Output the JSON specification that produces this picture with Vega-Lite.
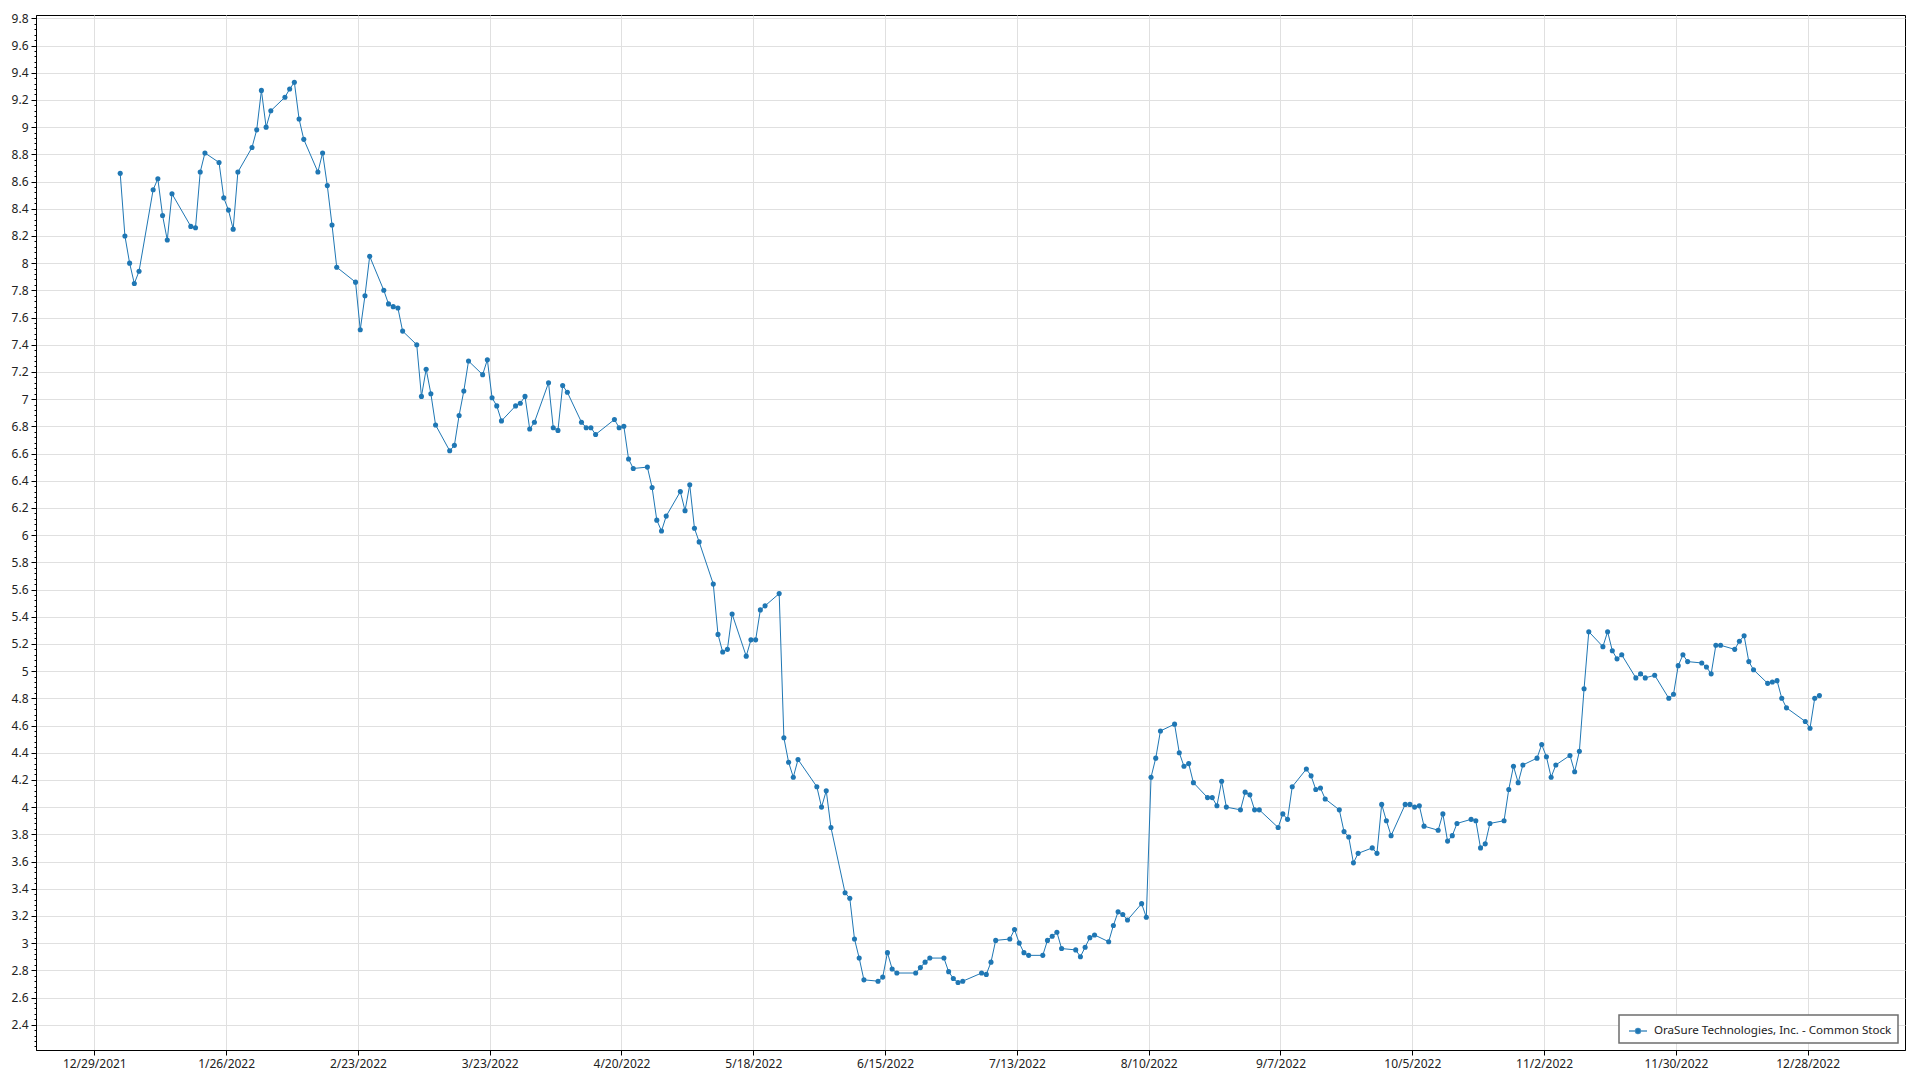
{
  "$schema": "https://vega.github.io/schema/vega-lite/v6.json",
  "width": 1869,
  "height": 1035,
  "autosize": {"type": "none"},
  "padding": {"left": 36, "top": 15, "right": 15, "bottom": 30},
  "background": "white",
  "config": {
    "font": "Noto Sans",
    "view": {"stroke": "#000000", "strokeWidth": 1},
    "axis": {"labelFont": "Noto Sans", "labelFontSize": 12, "labelColor": "#222222", "domainColor": "#000000", "tickColor": "#000000", "gridColor": "#e0e0e0", "gridWidth": 1, "title": null}
  },
  "data": {"values": [
{"date":"2022-01-03","price":8.66},{"date":"2022-01-04","price":8.20},{"date":"2022-01-05","price":8.00},{"date":"2022-01-06","price":7.85},{"date":"2022-01-07","price":7.94},
{"date":"2022-01-10","price":8.54},{"date":"2022-01-11","price":8.62},{"date":"2022-01-12","price":8.35},{"date":"2022-01-13","price":8.17},{"date":"2022-01-14","price":8.51},
{"date":"2022-01-18","price":8.27},{"date":"2022-01-19","price":8.26},{"date":"2022-01-20","price":8.67},{"date":"2022-01-21","price":8.81},
{"date":"2022-01-24","price":8.74},{"date":"2022-01-25","price":8.48},{"date":"2022-01-26","price":8.39},{"date":"2022-01-27","price":8.25},{"date":"2022-01-28","price":8.67},
{"date":"2022-01-31","price":8.85},{"date":"2022-02-01","price":8.98},{"date":"2022-02-02","price":9.27},{"date":"2022-02-03","price":9.00},{"date":"2022-02-04","price":9.12},
{"date":"2022-02-07","price":9.22},{"date":"2022-02-08","price":9.28},{"date":"2022-02-09","price":9.33},{"date":"2022-02-10","price":9.06},{"date":"2022-02-11","price":8.91},
{"date":"2022-02-14","price":8.67},{"date":"2022-02-15","price":8.81},{"date":"2022-02-16","price":8.57},{"date":"2022-02-17","price":8.28},{"date":"2022-02-18","price":7.97},
{"date":"2022-02-22","price":7.86},{"date":"2022-02-23","price":7.51},{"date":"2022-02-24","price":7.76},{"date":"2022-02-25","price":8.05},
{"date":"2022-02-28","price":7.80},{"date":"2022-03-01","price":7.70},{"date":"2022-03-02","price":7.68},{"date":"2022-03-03","price":7.67},{"date":"2022-03-04","price":7.50},
{"date":"2022-03-07","price":7.40},{"date":"2022-03-08","price":7.02},{"date":"2022-03-09","price":7.22},{"date":"2022-03-10","price":7.04},{"date":"2022-03-11","price":6.81},
{"date":"2022-03-14","price":6.62},{"date":"2022-03-15","price":6.66},{"date":"2022-03-16","price":6.88},{"date":"2022-03-17","price":7.06},{"date":"2022-03-18","price":7.28},
{"date":"2022-03-21","price":7.18},{"date":"2022-03-22","price":7.29},{"date":"2022-03-23","price":7.01},{"date":"2022-03-24","price":6.95},{"date":"2022-03-25","price":6.84},
{"date":"2022-03-28","price":6.95},{"date":"2022-03-29","price":6.97},{"date":"2022-03-30","price":7.02},{"date":"2022-03-31","price":6.78},{"date":"2022-04-01","price":6.83},
{"date":"2022-04-04","price":7.12},{"date":"2022-04-05","price":6.79},{"date":"2022-04-06","price":6.77},{"date":"2022-04-07","price":7.10},{"date":"2022-04-08","price":7.05},
{"date":"2022-04-11","price":6.83},{"date":"2022-04-12","price":6.79},{"date":"2022-04-13","price":6.79},{"date":"2022-04-14","price":6.74},
{"date":"2022-04-18","price":6.85},{"date":"2022-04-19","price":6.79},{"date":"2022-04-20","price":6.80},{"date":"2022-04-21","price":6.56},{"date":"2022-04-22","price":6.49},
{"date":"2022-04-25","price":6.50},{"date":"2022-04-26","price":6.35},{"date":"2022-04-27","price":6.11},{"date":"2022-04-28","price":6.03},{"date":"2022-04-29","price":6.14},
{"date":"2022-05-02","price":6.32},{"date":"2022-05-03","price":6.18},{"date":"2022-05-04","price":6.37},{"date":"2022-05-05","price":6.05},{"date":"2022-05-06","price":5.95},
{"date":"2022-05-09","price":5.64},{"date":"2022-05-10","price":5.27},{"date":"2022-05-11","price":5.14},{"date":"2022-05-12","price":5.16},{"date":"2022-05-13","price":5.42},
{"date":"2022-05-16","price":5.11},{"date":"2022-05-17","price":5.23},{"date":"2022-05-18","price":5.23},{"date":"2022-05-19","price":5.45},{"date":"2022-05-20","price":5.48},
{"date":"2022-05-23","price":5.57},{"date":"2022-05-24","price":4.51},{"date":"2022-05-25","price":4.33},{"date":"2022-05-26","price":4.22},{"date":"2022-05-27","price":4.35},
{"date":"2022-05-31","price":4.15},{"date":"2022-06-01","price":4.00},{"date":"2022-06-02","price":4.12},{"date":"2022-06-03","price":3.85},
{"date":"2022-06-06","price":3.37},{"date":"2022-06-07","price":3.33},{"date":"2022-06-08","price":3.03},{"date":"2022-06-09","price":2.89},{"date":"2022-06-10","price":2.73},
{"date":"2022-06-13","price":2.72},{"date":"2022-06-14","price":2.75},{"date":"2022-06-15","price":2.93},{"date":"2022-06-16","price":2.81},{"date":"2022-06-17","price":2.78},
{"date":"2022-06-21","price":2.78},{"date":"2022-06-22","price":2.82},{"date":"2022-06-23","price":2.86},{"date":"2022-06-24","price":2.89},
{"date":"2022-06-27","price":2.89},{"date":"2022-06-28","price":2.79},{"date":"2022-06-29","price":2.74},{"date":"2022-06-30","price":2.71},{"date":"2022-07-01","price":2.72},
{"date":"2022-07-05","price":2.78},{"date":"2022-07-06","price":2.77},{"date":"2022-07-07","price":2.86},{"date":"2022-07-08","price":3.02},
{"date":"2022-07-11","price":3.03},{"date":"2022-07-12","price":3.10},{"date":"2022-07-13","price":3.00},{"date":"2022-07-14","price":2.93},{"date":"2022-07-15","price":2.91},
{"date":"2022-07-18","price":2.91},{"date":"2022-07-19","price":3.02},{"date":"2022-07-20","price":3.05},{"date":"2022-07-21","price":3.08},{"date":"2022-07-22","price":2.96},
{"date":"2022-07-25","price":2.95},{"date":"2022-07-26","price":2.90},{"date":"2022-07-27","price":2.97},{"date":"2022-07-28","price":3.04},{"date":"2022-07-29","price":3.06},
{"date":"2022-08-01","price":3.01},{"date":"2022-08-02","price":3.13},{"date":"2022-08-03","price":3.23},{"date":"2022-08-04","price":3.21},{"date":"2022-08-05","price":3.17},
{"date":"2022-08-08","price":3.29},{"date":"2022-08-09","price":3.19},{"date":"2022-08-10","price":4.22},{"date":"2022-08-11","price":4.36},{"date":"2022-08-12","price":4.56},
{"date":"2022-08-15","price":4.61},{"date":"2022-08-16","price":4.40},{"date":"2022-08-17","price":4.30},{"date":"2022-08-18","price":4.32},{"date":"2022-08-19","price":4.18},
{"date":"2022-08-22","price":4.07},{"date":"2022-08-23","price":4.07},{"date":"2022-08-24","price":4.01},{"date":"2022-08-25","price":4.19},{"date":"2022-08-26","price":4.00},
{"date":"2022-08-29","price":3.98},{"date":"2022-08-30","price":4.11},{"date":"2022-08-31","price":4.09},{"date":"2022-09-01","price":3.98},{"date":"2022-09-02","price":3.98},
{"date":"2022-09-06","price":3.85},{"date":"2022-09-07","price":3.95},{"date":"2022-09-08","price":3.91},{"date":"2022-09-09","price":4.15},
{"date":"2022-09-12","price":4.28},{"date":"2022-09-13","price":4.23},{"date":"2022-09-14","price":4.13},{"date":"2022-09-15","price":4.14},{"date":"2022-09-16","price":4.06},
{"date":"2022-09-19","price":3.98},{"date":"2022-09-20","price":3.82},{"date":"2022-09-21","price":3.78},{"date":"2022-09-22","price":3.59},{"date":"2022-09-23","price":3.66},
{"date":"2022-09-26","price":3.70},{"date":"2022-09-27","price":3.66},{"date":"2022-09-28","price":4.02},{"date":"2022-09-29","price":3.90},{"date":"2022-09-30","price":3.79},
{"date":"2022-10-03","price":4.02},{"date":"2022-10-04","price":4.02},{"date":"2022-10-05","price":4.00},{"date":"2022-10-06","price":4.01},{"date":"2022-10-07","price":3.86},
{"date":"2022-10-10","price":3.83},{"date":"2022-10-11","price":3.95},{"date":"2022-10-12","price":3.75},{"date":"2022-10-13","price":3.79},{"date":"2022-10-14","price":3.88},
{"date":"2022-10-17","price":3.91},{"date":"2022-10-18","price":3.90},{"date":"2022-10-19","price":3.70},{"date":"2022-10-20","price":3.73},{"date":"2022-10-21","price":3.88},
{"date":"2022-10-24","price":3.90},{"date":"2022-10-25","price":4.13},{"date":"2022-10-26","price":4.30},{"date":"2022-10-27","price":4.18},{"date":"2022-10-28","price":4.31},
{"date":"2022-10-31","price":4.36},{"date":"2022-11-01","price":4.46},{"date":"2022-11-02","price":4.37},{"date":"2022-11-03","price":4.22},{"date":"2022-11-04","price":4.31},
{"date":"2022-11-07","price":4.38},{"date":"2022-11-08","price":4.26},{"date":"2022-11-09","price":4.41},{"date":"2022-11-10","price":4.87},{"date":"2022-11-11","price":5.29},
{"date":"2022-11-14","price":5.18},{"date":"2022-11-15","price":5.29},{"date":"2022-11-16","price":5.15},{"date":"2022-11-17","price":5.09},{"date":"2022-11-18","price":5.12},
{"date":"2022-11-21","price":4.95},{"date":"2022-11-22","price":4.98},{"date":"2022-11-23","price":4.95},{"date":"2022-11-25","price":4.97},
{"date":"2022-11-28","price":4.80},{"date":"2022-11-29","price":4.83},{"date":"2022-11-30","price":5.04},{"date":"2022-12-01","price":5.12},{"date":"2022-12-02","price":5.07},
{"date":"2022-12-05","price":5.06},{"date":"2022-12-06","price":5.03},{"date":"2022-12-07","price":4.98},{"date":"2022-12-08","price":5.19},{"date":"2022-12-09","price":5.19},
{"date":"2022-12-12","price":5.16},{"date":"2022-12-13","price":5.22},{"date":"2022-12-14","price":5.26},{"date":"2022-12-15","price":5.07},{"date":"2022-12-16","price":5.01},
{"date":"2022-12-19","price":4.91},{"date":"2022-12-20","price":4.92},{"date":"2022-12-21","price":4.93},{"date":"2022-12-22","price":4.80},{"date":"2022-12-23","price":4.73},
{"date":"2022-12-27","price":4.63},{"date":"2022-12-28","price":4.58},{"date":"2022-12-29","price":4.80},{"date":"2022-12-30","price":4.82}
  ]},
  "encoding": {
    "x": {
      "field": "date", "type": "temporal", "timeUnit": "utcyearmonthdate", "bandPosition": 0.5,
      "scale": {"type": "utc", "domain": [{"year": 2021, "month": 12, "date": 16, "hours": 14, "minutes": 40, "utc": true}, {"year": 2023, "month": 1, "date": 17, "hours": 16, "minutes": 20, "utc": true}]}
    },
    "y": {"field": "price", "type": "quantitative", "scale": {"domain": [2.214, 9.8245], "nice": false, "zero": false}}
  },
  "layer": [
    {
      "mark": {"type": "line", "color": "#1f77b4", "strokeWidth": 1, "point": {"filled": true, "size": 26, "opacity": 1, "color": "#1f77b4"}},
      "encoding": {
        "x": {
          "field": "date", "type": "temporal", "timeUnit": "utcyearmonthdate", "bandPosition": 0.5,
          "axis": {
            "orient": "bottom", "grid": true, "tickSize": 5, "labelPadding": 3, "labelFlush": false, "labelOverlap": false,
            "labelExpr": "utcFormat(datum.value, '%-m/%-d/%Y')",
            "values": [
              {"year": 2021, "month": 12, "date": 29, "utc": true}, {"year": 2022, "month": 1, "date": 26, "utc": true},
              {"year": 2022, "month": 2, "date": 23, "utc": true}, {"year": 2022, "month": 3, "date": 23, "utc": true},
              {"year": 2022, "month": 4, "date": 20, "utc": true}, {"year": 2022, "month": 5, "date": 18, "utc": true},
              {"year": 2022, "month": 6, "date": 15, "utc": true}, {"year": 2022, "month": 7, "date": 13, "utc": true},
              {"year": 2022, "month": 8, "date": 10, "utc": true}, {"year": 2022, "month": 9, "date": 7, "utc": true},
              {"year": 2022, "month": 10, "date": 5, "utc": true}, {"year": 2022, "month": 11, "date": 2, "utc": true},
              {"year": 2022, "month": 11, "date": 30, "utc": true}, {"year": 2022, "month": 12, "date": 28, "utc": true}
            ]
          }
        },
        "y": {
          "field": "price", "type": "quantitative",
          "axis": {
            "orient": "left", "grid": true, "tickSize": 5, "labelPadding": 3, "labelFlush": false, "labelOverlap": false, "format": ".2~f",
            "values": [2.4, 2.6, 2.8, 3.0, 3.2, 3.4, 3.6, 3.8, 4.0, 4.2, 4.4, 4.6, 4.8, 5.0, 5.2, 5.4, 5.6, 5.8, 6.0, 6.2, 6.4, 6.6, 6.8, 7.0, 7.2, 7.4, 7.6, 7.8, 8.0, 8.2, 8.4, 8.6, 8.8, 9.0, 9.2, 9.4, 9.6, 9.8]
          }
        },
        "color": {
          "datum": "OraSure Technologies, Inc. - Common Stock",
          "scale": {"range": ["#1f77b4"]},
          "legend": {
            "title": null, "orient": "bottom-right", "offset": 7, "padding": 6,
            "strokeColor": "#6e6e6e", "fillColor": "#ffffff", "cornerRadius": 0,
            "labelFont": "Noto Sans", "labelFontSize": 11.6, "labelColor": "#222222", "labelOffset": 6, "labelLimit": 400,
            "symbolType": "M-1,0L1,0M-0.27,0A0.27,0.27,0,1,1,0.27,0A0.27,0.27,0,1,1,-0.27,0Z",
            "symbolSize": 324, "symbolOffset": 3,
            "encode": {
              "legend": {"update": {"strokeWidth": {"value": 1.5}}},
              "symbols": {"update": {"stroke": {"value": "#1f77b4"}, "strokeWidth": {"value": 1.5}, "fill": {"value": "#1f77b4"}, "opacity": {"value": 1}, "fillOpacity": {"value": 1}, "strokeOpacity": {"value": 0.8}}}
            }
          }
        }
      }
    },
    {
      "mark": {"type": "point", "opacity": 0},
      "encoding": {
        "x": {"field": "date", "type": "temporal", "timeUnit": "utcyearmonthdate", "bandPosition": 0.5, "axis": null},
        "y": {
          "field": "price", "type": "quantitative",
          "axis": {
            "orient": "left", "grid": false, "domain": false, "labels": false, "tickSize": 2, "tickWidth": 1,
            "values": [2.24,2.28,2.32,2.36,2.44,2.48,2.52,2.56,2.64,2.68,2.72,2.76,2.84,2.88,2.92,2.96,3.04,3.08,3.12,3.16,3.24,3.28,3.32,3.36,3.44,3.48,3.52,3.56,3.64,3.68,3.72,3.76,3.84,3.88,3.92,3.96,4.04,4.08,4.12,4.16,4.24,4.28,4.32,4.36,4.44,4.48,4.52,4.56,4.64,4.68,4.72,4.76,4.84,4.88,4.92,4.96,5.04,5.08,5.12,5.16,5.24,5.28,5.32,5.36,5.44,5.48,5.52,5.56,5.64,5.68,5.72,5.76,5.84,5.88,5.92,5.96,6.04,6.08,6.12,6.16,6.24,6.28,6.32,6.36,6.44,6.48,6.52,6.56,6.64,6.68,6.72,6.76,6.84,6.88,6.92,6.96,7.04,7.08,7.12,7.16,7.24,7.28,7.32,7.36,7.44,7.48,7.52,7.56,7.64,7.68,7.72,7.76,7.84,7.88,7.92,7.96,8.04,8.08,8.12,8.16,8.24,8.28,8.32,8.36,8.44,8.48,8.52,8.56,8.64,8.68,8.72,8.76,8.84,8.88,8.92,8.96,9.04,9.08,9.12,9.16,9.24,9.28,9.32,9.36,9.44,9.48,9.52,9.56,9.64,9.68,9.72,9.76]
          }
        }
      }
    }
  ],
  "resolve": {"axis": {"x": "independent", "y": "independent"}}
}
